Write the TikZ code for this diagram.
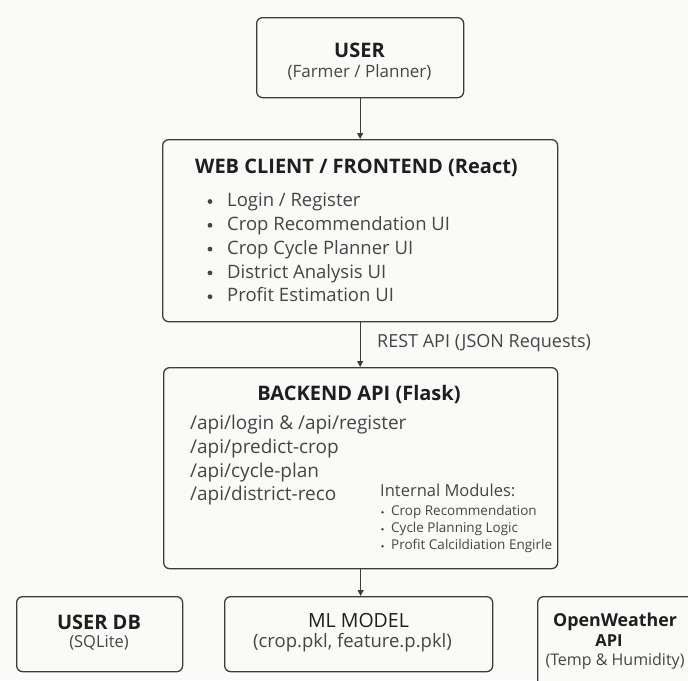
\documentclass[tikz,border=0pt]{standalone}
\usepackage{fontspec}
\setmainfont{Open Sans}
\usetikzlibrary{arrows.meta}
\definecolor{bg}{HTML}{FAFAF8}
\definecolor{edge}{HTML}{3C3C3C}
\definecolor{ink}{HTML}{1E1E1E}
\definecolor{bodyc}{HTML}{454545}
\newcommand{\fs}[1]{\fontsize{#1}{#1}\selectfont}
\tikzset{
  box/.style={draw=edge, line width=1.3pt, rounded corners=6pt, fill=bg, inner sep=0pt, anchor=north west},
  conn/.style={draw=edge, line width=1pt, -{Triangle[length=6pt,width=6pt]}},
  txt/.style={inner sep=0pt, text=bodyc},
  ttl/.style={inner sep=0pt, text=ink, font=\bfseries\fs{20}},
  dotc/.style={fill=bodyc, draw=none},
}
\begin{document}
\begin{tikzpicture}[x=1pt,y=-1pt]
\fill[bg] (0,0) rectangle (688,680);
\useasboundingbox (0,0) rectangle (688,680);
\clip (0,0) rectangle (688,680);

% boxes
\node[box, minimum width=207pt, minimum height=80pt] (user) at (256,17) {};
\node[box, minimum width=395pt, minimum height=182pt] (web) at (162,139) {};
\node[box, minimum width=394pt, minimum height=201pt] (back) at (163,367) {};
\node[box, minimum width=166pt, minimum height=75pt] (udb) at (16,596) {};
\node[box, minimum width=268pt, minimum height=75pt] (ml) at (224,596) {};
\node[box, minimum width=170pt, minimum height=110pt] (ow) at (537,596) {};

% connectors
\draw[conn] (user.south) -- (web.north);
\draw[conn] (web.south) -- (web.south |- back.north);
\draw[conn] (back.south) -- (back.south |- ml.north);

% USER
\node[ttl] (usert) at (359.5,50) {USER};
\node[txt, font=\fs{17}] (users) at (359.5,72) {(Farmer / Planner)};

% WEB CLIENT
\node[ttl, anchor=west] (webt) at (195,168) {WEB CLIENT / FRONTEND (React)};
\foreach \i/\t in {0/{Login / Register},1/{Crop Recommendation UI},2/{Crop Cycle Planner UI},3/{District Analysis UI},4/{Profit Estimation UI}}{
  \fill[dotc] (210,{201.5+23.8*\i}) circle (2.4pt);
  \node[txt, anchor=base west, font=\fs{18.5}] (webi\i) at (227,{206.6+23.8*\i}) {\t};
}

% REST label
\node[txt, anchor=west, font=\fs{18}] (rest) at (377,343) {REST API (JSON Requests)};

% BACKEND
\node[ttl] (backt) at (359,394) {BACKEND API (Flask)};
\node[txt, anchor=west, font=\fs{19}] (api1) at (190,425) {/api/login \& /api/register};
\node[txt, anchor=west, font=\fs{19}] (api2) at (190,449) {/api/predict-crop};
\node[txt, anchor=west, font=\fs{19}] (api3) at (190,472.5) {/api/cycle-plan};
\node[txt, anchor=west, font=\fs{19}] (api4) at (190,496) {/api/district-reco};

\node[txt, anchor=west, font=\fs{16.5}] (intm) at (380,490) {Internal Modules:};
\foreach \i/\t in {0/{Crop Recommendation},1/{Cycle Planning Logic},2/{Profit Calcildiation Engirle}}{
  \fill[dotc] (382.5,{512.2+17*\i}) circle (1.4pt);
  \node[txt, anchor=base west, font=\fs{13.5}] (mod\i) at (391,{515.8+17*\i}) {\t};
}

% USER DB
\node[ttl] (udbt) at (99,622) {USER DB};
\node[txt, font=\fs{16.5}] (udbs) at (99,643) {(SQLite)};

% ML MODEL
\node[txt, text=ink, font=\fs{19.5}] (mlt) at (358.5,621) {ML MODEL};
\node[txt, font=\fs{18.5}] (mls) at (352.5,643) {(crop.pkl, feature.p.pkl)};

% OpenWeather
\node[txt, text=ink, font=\bfseries\fs{17.8}] (owt) at (615,622) {OpenWeather};
\node[txt, text=ink, font=\bfseries\fs{16.5}] (owa) at (609,641) {API};
\node[txt, font=\fs{16}] (ows) at (615,661) {(Temp \& Humidity)};
\end{tikzpicture}
\end{document}
